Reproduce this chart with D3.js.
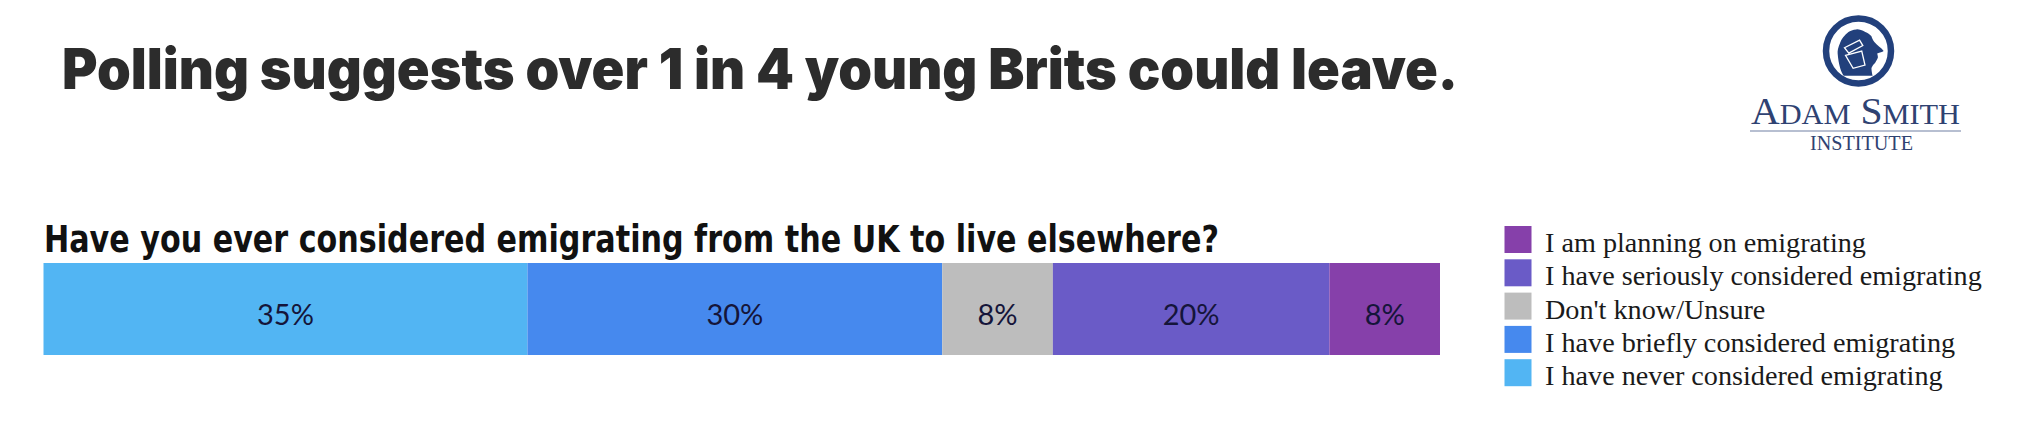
<!DOCTYPE html>
<html>
<head>
<meta charset="utf-8">
<script src="https://cdn.jsdelivr.net/npm/d3@7"></script>
<style>
  html, body { margin: 0; padding: 0; background: #ffffff; }
  svg { display: block; }
</style>
</head>
<body>
<div id="chart"></div>
<script>
// ---- data ----
const title = "Polling suggests over 1 in 4 young Brits could leave.";
const question = "Have you ever considered emigrating from the UK to live elsewhere?";
const categories = [
  "I have never considered emigrating",
  "I have briefly considered emigrating",
  "Don't know/Unsure",
  "I have seriously considered emigrating",
  "I am planning on emigrating"
];
const values = [35, 30, 8, 20, 8];
const colors = ["#52B5F3", "#4689EE", "#BDBDBD", "#6A5BC7", "#8640AA"];
const barGroup = ["UK"];

// ---- layout ----
const W = 2028, H = 428;
const svg = d3.select("#chart").append("svg")
  .attr("width", W).attr("height", H)
  .attr("viewBox", `0 0 ${W} ${H}`);
svg.append("rect").attr("width", W).attr("height", H).attr("fill", "#ffffff");

// Title
svg.append("text")
  .attr("x", 62).attr("y", 89)
  .attr("textLength", 1396).attr("lengthAdjust", "spacingAndGlyphs")
  .style("font-family", "Inter, 'Noto Sans', sans-serif")
  .style("font-weight", 900)
  .style("font-size", "56px")
  .attr("fill", "#2c2c2c")
  .text(title);

// Question
svg.append("text")
  .attr("x", 44).attr("y", 252)
  .attr("textLength", 1175).attr("lengthAdjust", "spacingAndGlyphs")
  .style("font-family", "'Liberation Sans Narrow', 'DejaVu Sans Condensed', 'Liberation Sans', sans-serif")
  .style("font-weight", 700)
  .style("font-size", "37px")
  .attr("fill", "#111111")
  .text(question);

// Stacked bar
const total = d3.sum(values);
const x = d3.scaleLinear().domain([0, total]).range([43.5, 1440]);
const y = d3.scaleBand().domain(barGroup).range([263, 355]).padding(0);
const color = d3.scaleOrdinal().domain(categories).range(colors);

const row = {};
categories.forEach((c, i) => row[c] = values[i]);
const series = d3.stack().keys(categories)([row]);

const segs = svg.append("g").selectAll("g.seg").data(series).join("g").attr("class", "seg");
segs.append("rect")
  .attr("x", d => x(d[0][0]))
  .attr("y", y("UK"))
  .attr("width", d => x(d[0][1]) - x(d[0][0]))
  .attr("height", y.bandwidth())
  .attr("fill", d => color(d.key));
segs.append("text")
  .attr("x", d => (x(d[0][0]) + x(d[0][1])) / 2)
  .attr("y", y("UK") + y.bandwidth() / 2 + 16)
  .attr("text-anchor", "middle")
  .style("font-family", "Lato, 'Noto Sans', sans-serif")
  .style("font-size", "29px")
  .attr("fill", "#15153a")
  .text(d => d3.format(".0f")(d[0].data[d.key]) + "%");

// Legend (reverse order)
const legendItems = categories.slice().reverse();
const ly = d3.scaleBand().domain(legendItems).range([226, 226 + 5 * 33.3]).paddingInner(0);
const lg = svg.append("g").selectAll("g").data(legendItems).join("g")
  .attr("transform", d => `translate(0,${ly(d)})`);
lg.append("rect")
  .attr("x", 1504.5).attr("y", 0)
  .attr("width", 27).attr("height", 27)
  .attr("fill", d => color(d));
lg.append("text")
  .attr("x", 1545).attr("y", 26)
  .style("font-family", "'Liberation Serif', 'DejaVu Serif', serif")
  .style("font-size", "28.2px")
  .attr("fill", "#1a1a1a")
  .text(d => d);

// Logo
const logoColor = "#22407C";
const logo = svg.append("g").attr("transform", "translate(1858.5,51)");
logo.append("circle").attr("r", 32.5).attr("fill", "#ffffff")
  .attr("stroke", logoColor).attr("stroke-width", 6.5);
const head = logo.append("g").attr("transform", "scale(1.08)");
head.append("path")
  .attr("d", "M6.3,-17.7 C3,-19.5 0,-20.3 -2,-20 C-5,-19.8 -8,-18.5 -9.3,-17.7 C-13,-15 -16,-11 -17,-7.7 C-19,-3 -19.5,0 -19.3,2.3 C-19,7 -18,12 -17,15.7 C-16,19 -15,21 -13.7,23 L13,23 C12.5,20 12,18 12,15.7 C13,13.5 14,12 15.3,11 C16.5,9 17.5,7.5 18,5.7 C18,4.5 17.5,3.5 17.3,2.3 C20,1.5 22,0.8 23.3,0 C21,-3 17,-5.5 14.7,-8.3 C13.5,-10 12.5,-12 12,-13.7 C10.5,-15.5 8.5,-17 6.3,-17.7 Z")
  .attr("fill", logoColor);
head.append("path")
  .attr("d", "M-13,-3 L1,-10 L4,-5 L-9,2 Z M-12,4 L3,0 L6,13 L-5,16 Z")
  .attr("fill", "none").attr("stroke", "#ffffff").attr("stroke-width", 1.2);

const serif = "'Liberation Serif', 'DejaVu Serif', serif";
const brand = svg.append("text")
  .attr("x", 1751).attr("y", 124)
  .attr("textLength", 209).attr("lengthAdjust", "spacingAndGlyphs")
  .style("font-family", serif)
  .attr("fill", "#2F4272");
[["A", 38], ["DAM", 29], [" S", 38], ["MITH", 29]].forEach(([t, s]) => {
  brand.append("tspan").style("font-size", s + "px").text(t);
});
svg.append("line")
  .attr("x1", 1750).attr("x2", 1961).attr("y1", 131).attr("y2", 131)
  .attr("stroke", "#9FAAC2").attr("stroke-width", 1.5);
svg.append("text")
  .attr("x", 1810).attr("y", 150)
  .attr("textLength", 103).attr("lengthAdjust", "spacingAndGlyphs")
  .style("font-family", serif).style("font-size", "22px")
  .attr("fill", "#2F4272")
  .text("INSTITUTE");
</script>
</body>
</html>
